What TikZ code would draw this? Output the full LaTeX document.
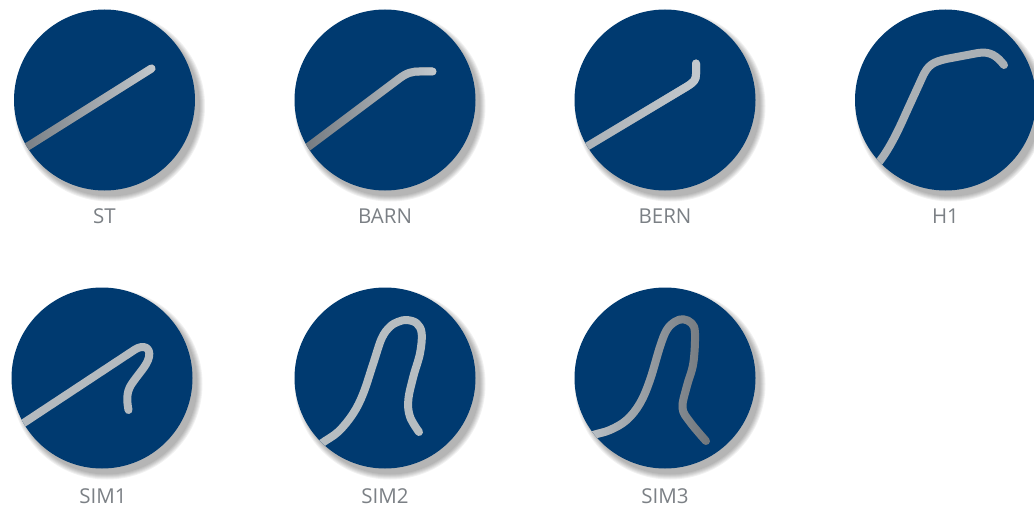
\documentclass[tikz,border=0pt]{standalone}
\usepackage{fontspec}
\setmainfont{Open Sans}
\usetikzlibrary{fadings}
\definecolor{discblue}{HTML}{003A70}
\definecolor{wirelight}{HTML}{C3C9CE}
\definecolor{wiremid}{HTML}{AAB0B5}
\definecolor{wiredark}{HTML}{70767C}
\definecolor{lbl}{HTML}{7B8085}
\tikzfading[name=lefttoright, left color=transparent!100, right color=transparent!0]
\tikzfading[name=righttoleft, left color=transparent!0, right color=transparent!100]
\tikzset{
  disc/.style={circle, fill=discblue, minimum size=181pt, inner sep=0pt},
  wire/.style={line width=8pt, line cap=round, line join=round, draw=wirelight},
  lab/.style={text=lbl, font=\fontsize{20.5}{24}\selectfont, anchor=center, inner sep=0pt},
  shadowdisc/.style={fill=black, opacity=0.055},
}
\newcommand\dropshadow[1]{%
  \foreach \r in {95.5,94.5,93.5,92.5,91.5,90.5}
    \fill[shadowdisc] ([shift={(5,6)}]#1) circle[radius=\r];}
\begin{document}
\begin{tikzpicture}[x=1pt,y=-1pt]
\useasboundingbox (0,0) rectangle (1034,511);
% centres
\coordinate (cST) at (104.5,100);
\coordinate (cBARN) at (385,100);
\coordinate (cBERN) at (665,100);
\coordinate (cH) at (945.5,100);
\coordinate (cSa) at (102,378);
\coordinate (cSb) at (385,378);
\coordinate (cSc) at (665,378);
% shadows
\dropshadow{cST}\dropshadow{cBARN}\dropshadow{cBERN}\dropshadow{cH}
\dropshadow{cSa}\dropshadow{cSb}\dropshadow{cSc}
% discs
\node[disc] (st) at (cST) {};
\node[disc] (barn) at (cBARN) {};
\node[disc] (bern) at (cBERN) {};
\node[disc] (h1) at (cH) {};
\node[disc] (sim1) at (cSa) {};
\node[disc] (sim2) at (cSb) {};
\node[disc] (sim3) at (cSc) {};
% labels
\node[lab] (lst) at (104.5,216) {ST};
\node[lab] (lbarn) at (385,216) {BARN};
\node[lab] (lbern) at (665,216) {BERN};
\node[lab] (lh1) at (945.5,216) {H1};
\node[lab] (lsim1) at (103,496) {SIM1};
\node[lab] (lsim2) at (385,496) {SIM2};
\node[lab] (lsim3) at (665,496) {SIM3};
% ST
\begin{scope}
  \clip (st.center) circle[radius=90.5];
  \draw[wire, draw=wiredark] (10,157.5) -- (151.5,68.5);
  \draw[wire, path fading=lefttoright] (10,157.5) -- (151.5,68.5);
\end{scope}
% BARN
\begin{scope}
  \clip (barn.center) circle[radius=90.5];
  \draw[wire, draw=wiredark] (300,153) -- (398,79.5) .. controls (407,72.5) and (412,71.5) .. (420,71.5) -- (432.5,71.5);
  \draw[wire, path fading=lefttoright] (300,153) -- (398,79.5) .. controls (407,72.5) and (412,71.5) .. (420,71.5) -- (432.5,71.5);
\end{scope}
% BERN
\begin{scope}
  \clip (bern.center) circle[radius=90.5];
  \draw[wire, draw=wiremid] (575,153.7) -- (687,86.5) .. controls (694,82) and (696,80) .. (696,74) -- (696,63.5);
  \draw[wire, path fading=lefttoright] (575,153.7) -- (687,86.5) .. controls (694,82) and (696,80) .. (696,74) -- (696,63.5);
\end{scope}
% H1
\begin{scope}
  \clip (h1.center) circle[radius=90.5];
  \draw[wire, draw=wiremid] (872,170) .. controls (885,157) and (895,138) .. (906,113) -- (922,78)
     .. controls (928,64) and (934,62) .. (946,59) -- (978,53) .. controls (990,51) and (997,56) .. (1004,65);
\end{scope}
% SIM1
\begin{scope}
  \clip (sim1.center) circle[radius=90.5];
  \draw[wire, draw=wiremid!60!wirelight] (10,432) -- (135,349.5) .. controls (143,344.5) and (151,347) .. (149,357)
     .. controls (147,366) and (138,374) .. (131,385) .. controls (126,393) and (127,402) .. (128.5,410);
\end{scope}
% SIM2
\begin{scope}
  \clip (sim2.center) circle[radius=90.5];
  \draw[wire, draw=wiremid!50!wirelight] plot[smooth, tension=0.6] coordinates {(312,452) (321.7,443.3) (338.3,431.7) (353.3,413.3) (363.3,393.3) (373.3,363.3) (381.7,338.3) (390,326.7) (398.3,321.7) (406.7,320) (416.7,323.3) (421.7,333.3) (420,353.3) (413.3,376.7) (408.3,400) (410,416.7) (419,432)};
\end{scope}
% SIM3
\begin{scope}
  \clip (sim3.center) circle[radius=90.5];
  \draw[wire, draw=wiredark] plot[smooth, tension=0.6] coordinates {(580,440) (593.3,435) (610,430) (626.7,420) (640,403.3) (650,380) (660,346.7) (666.7,330) (675,321.7) (683.3,319.3) (691.7,323.3) (695,333.3) (693.3,363.3) (686.7,386.7) (682.5,408) (690,422) (706,441)};
  \draw[wire, path fading=righttoleft] plot[smooth, tension=0.6] coordinates {(580,440) (593.3,435) (610,430) (626.7,420) (640,403.3) (650,380) (660,346.7) (666.7,330) (675,321.7) (683.3,319.3) (691.7,323.3) (695,333.3) (693.3,363.3) (686.7,386.7) (682.5,408) (690,422) (706,441)};
\end{scope}
\end{tikzpicture}
\end{document}
